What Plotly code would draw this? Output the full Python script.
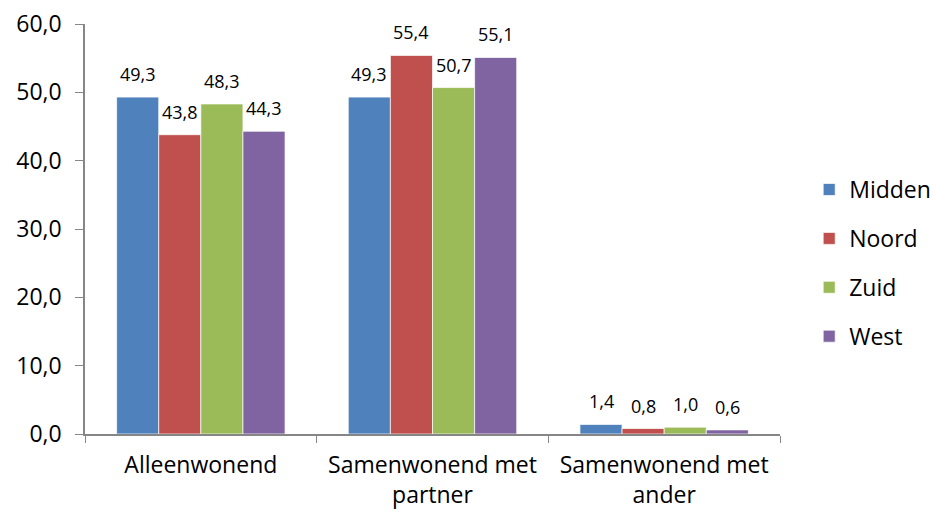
import plotly.graph_objects as go

categories = ["Alleenwonend", "Samenwonend met<br>partner", "Samenwonend met<br>ander"]
regions = ["Midden", "Noord", "Zuid", "West"]
colors = ["#4F81BD", "#C0504D", "#9BBB59", "#8064A2"]
values = {
    "Midden": [49.3, 49.3, 1.4],
    "Noord": [43.8, 55.4, 0.8],
    "Zuid": [48.3, 50.7, 1.0],
    "West": [44.3, 55.1, 0.6],
}

W, H = 930, 514
L, R, T, B = 85, 150, 24, 80
BARGAP = 0.273
FONT = "Open Sans"
AXIS_COLOR = "#868686"

fig = go.Figure()
for name, col in zip(regions, colors):
    fig.add_trace(go.Bar(
        name=name, x=categories, y=values[name], legendgroup=name,
        marker=dict(color=col, line=dict(color="rgba(255,255,255,0.7)", width=1)),
        hoverinfo="skip",
    ))

# value labels centred over each bar
plot_w = W - L - R
cat_w = plot_w / len(categories)
bar_w = cat_w * (1 - BARGAP) / len(regions)
annotations = []
for i, name in enumerate(regions):
    shift = (i - (len(regions) - 1) / 2) * bar_w
    for cat, v in zip(categories, values[name]):
        annotations.append(dict(
            x=cat, y=v, xref="x", yref="y", text=f"{v:.1f}".replace(".", ","),
            showarrow=False, xshift=shift, yshift=23, yanchor="middle",
            font=dict(family=FONT, size=18, color="#000000"),
        ))

fig.update_layout(
    width=W, height=H, margin=dict(l=L, r=R, t=T, b=B, autoexpand=False),
    paper_bgcolor="white", plot_bgcolor="white",
    barmode="group", bargap=BARGAP, bargroupgap=0,
    separators=",.",
    font=dict(family=FONT, size=22, color="#000000"),
    annotations=annotations,
    legend=dict(
        x=1.042, xanchor="left", y=0.417, yanchor="middle",
        font=dict(family=FONT, size=23, color="#000000"),
        traceorder="grouped", tracegroupgap=16, itemwidth=30,
    ),
    showlegend=True,
)
fig.update_xaxes(
    type="category", tickson="boundaries", ticks="outside", ticklen=7,
    tickcolor=AXIS_COLOR, showline=True, linecolor=AXIS_COLOR, linewidth=1.5,
    showgrid=False, tickfont=dict(family=FONT, size=23), ticklabelstandoff=10,
)
fig.update_yaxes(
    range=[0, 60], dtick=10, tickformat=".1f", ticks="outside", ticklen=8,
    tickcolor=AXIS_COLOR, showline=True, linecolor=AXIS_COLOR, linewidth=1.5,
    showgrid=False, zeroline=False, tickfont=dict(family=FONT, size=23),
    ticklabelstandoff=9,
)

fig.write_html("out.html")
